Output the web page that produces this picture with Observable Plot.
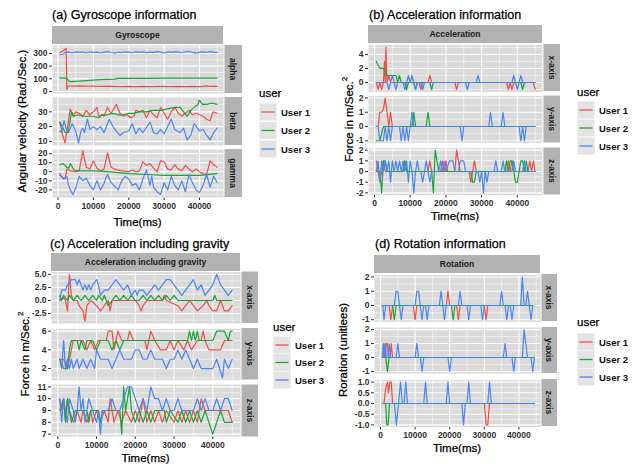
<!DOCTYPE html>
<html><head><meta charset="utf-8">
<script src="https://cdn.jsdelivr.net/npm/d3@7"></script>
<script src="https://cdn.jsdelivr.net/npm/@observablehq/plot@0.6"></script>
<style>
body{margin:0;background:#fff}
#root{position:relative;width:641px;height:464px;overflow:hidden;background:#fff}
</style></head><body><div id="root"></div>
<script>
// ---------- shared categories / ticks ----------
const users = ["User 1", "User 2", "User 3"];
const userColors = ["#EF4E46", "#17A634", "#4985F5"];
const timeTicks = [0, 10000, 20000, 30000, 40000];
const timeMinor = [5000, 15000, 25000, 35000, 45000];

// ---------- (a) Gyroscope ----------
const gyroAlpha1 = [[500,305],[1200,315],[2000,335],[2300,340],[2500,15],[2900,45],[4000,42],[6000,44],[8000,42],[10000,43],[12000,41],[14000,42],[16000,40],[18000,38],[20000,40],[22000,39],[24000,40],[26000,38],[28000,41],[30000,40],[32000,38],[34000,40],[36000,39],[38000,41],[40000,38],[42000,44],[43000,40],[44000,42],[45000,40]];
const gyroAlpha2 = [[500,107],[1500,106],[2500,104],[3000,85],[3500,78],[4500,80],[6000,82],[8000,86],[10000,90],[12000,93],[14000,95],[16000,98],[17000,103],[20000,104],[25000,104],[30000,105],[35000,105],[40000,106],[45000,106]];
const gyroAlpha3 = [[500,290],[1500,295],[2000,308],[3000,310],[4000,305],[5000,312],[6000,308],[7000,310],[8000,305],[9000,312],[10000,309],[11000,311],[12000,305],[13000,310],[14000,315],[15000,308],[16000,303],[17000,310],[18000,307],[19000,312],[20000,310],[21000,306],[22000,312],[23000,309],[24000,313],[25000,307],[26000,310],[27000,308],[28000,315],[29000,310],[30000,305],[31000,312],[32000,309],[33000,314],[34000,310],[35000,306],[36000,312],[37000,316],[38000,309],[39000,303],[40000,310],[41000,312],[42000,308],[43000,315],[44000,311],[45000,309]];
const gyroBeta1 = [[500,23],[1200,15],[2000,9],[2700,20],[3500,32],[4200,27],[5000,30],[6000,29],[7000,27],[8000,31],[9000,28],[10000,30],[11000,33],[11500,27],[12500,28],[13000,27],[14000,33],[15000,29],[16500,35],[17500,29],[18500,27],[19500,28],[20500,26],[21500,27],[22000,31],[23000,30],[24000,31],[25000,26],[26000,31],[27000,28],[28000,26],[29000,33],[30000,29],[31000,25],[32000,30],[33000,33],[34000,29],[35000,27],[36000,29],[37000,31],[38000,28],[39000,29],[40000,28],[41000,27],[42000,25],[43000,24],[43800,30],[45000,29]];
const gyroBeta2 = [[500,23],[1200,20],[2000,16],[2800,16],[3300,22],[3800,30],[4500,27],[5500,28],[7000,27],[8500,27],[10000,27],[11500,26],[12500,28],[14000,28],[15500,29],[17000,28],[18500,28],[20000,29],[21500,29],[23000,30],[25000,30],[27000,31],[29000,31],[31000,32],[33000,33],[34500,33],[35500,30],[36500,27],[37500,31],[38500,33],[39500,35],[40000,38],[40800,35],[42000,35],[43500,36],[45000,35]];
const gyroBeta3 = [[500,17],[1000,16],[1700,24],[2500,17],[3000,16],[4000,22],[5000,17],[5800,9],[6500,17],[7000,19],[7500,16],[8300,25],[9000,18],[10000,20],[11000,18],[12000,20],[13000,16],[14500,25],[15500,20],[16500,17],[17500,14],[18500,16],[20000,17],[21000,22],[22000,15],[23000,19],[24000,16],[26000,23],[27000,16],[28000,15],[29000,18],[30000,15],[31000,20],[32000,25],[33000,18],[34500,16],[35500,19],[36500,11],[37500,14],[38500,22],[40000,17],[41000,18],[42000,14],[43000,11],[44000,16],[45000,19]];
const gyroGamma1 = [[500,-4],[2000,-8],[2500,3],[3500,1],[5000,0],[6000,1],[7000,23],[8000,5],[9000,3],[10000,12],[11000,4],[12000,1],[13000,3],[14000,21],[15000,5],[16000,3],[18000,1],[20000,0],[21000,2],[22000,0],[23000,1],[24000,11],[25000,7],[26000,9],[27000,4],[28000,0],[29000,12],[30000,11],[31000,3],[32000,2],[33000,8],[34000,3],[35000,1],[36000,7],[37000,3],[38000,0],[39000,3],[40000,0],[41000,-2],[42000,-3],[43000,12],[44000,8],[45000,5]];
const gyroGamma2 = [[500,8],[1500,9],[2500,5],[3000,4],[3500,9],[4500,2],[6000,1],[10000,1],[15000,0],[20000,-2],[25000,-3],[30000,-4],[35000,-4],[40000,-4],[45000,-2]];
const gyroGamma3 = [[500,-2],[1500,-8],[2500,-5],[3000,-15],[3500,-20],[4200,-25],[5000,-18],[6000,-5],[7000,-10],[8000,-7],[9000,-15],[10000,-20],[11000,-10],[12000,-20],[13000,-13],[13500,-7],[14000,-3],[15000,-12],[17000,-20],[18000,-10],[19000,-5],[20000,-8],[21000,-15],[22000,-13],[23000,-20],[24000,-8],[25000,2],[26000,-15],[26500,-5],[27000,-17],[28000,-22],[29000,-25],[30000,-12],[31000,-20],[32000,-5],[33000,-15],[34000,-20],[35000,-10],[36000,-22],[37000,-3],[38000,-12],[39000,-20],[40000,-23],[41000,-15],[42000,-3],[43000,-17],[44000,-5],[45000,-12]];

// ---------- (b) Acceleration ----------
const accX1 = [[500,0],[1000,-1],[1500,0],[2000,-1],[2500,0],[2800,3],[3000,0],[3200,5],[3500,0],[4000,1],[4500,0],[12500,0],[13000,-1],[13500,0],[15000,0],[15500,1],[16000,0],[22500,0],[23000,-1],[23500,0],[37000,0],[37500,-1],[38000,0],[38500,-1],[39000,0],[44500,0],[45000,-1]];
const accX2 = [[500,3],[1000,2.5],[1500,2],[2500,2],[3000,1.5],[3500,1],[5000,1],[6000,1],[6500,0],[7000,1],[7500,0],[8500,0],[9000,-1],[9500,0],[11000,0],[11500,-1],[12000,0],[15500,0],[16000,-1],[16500,0],[41000,0],[41500,-1],[42000,0],[45000,0]];
const accX3 = [[500,0],[3500,0],[4000,-1],[4500,0],[5000,1],[5500,0],[6000,-1],[6500,0],[8000,0],[8500,-1],[9000,0],[9500,1],[10000,0],[10500,1],[11000,0],[11500,-1],[12000,0],[13000,0],[13500,-1],[14000,0],[25500,0],[26000,-1],[26500,0],[28500,0],[29000,1],[29500,0],[38500,0],[39000,1],[39500,0],[40000,-1],[40500,0],[41000,1],[41500,0],[45000,0]];
const accY1 = [[1000,0],[1500,1],[2000,1],[2500,1.2],[3000,2],[3500,1],[4000,0],[4500,1],[5000,0],[6000,0],[45000,0]];
const accY2 = [[500,-1],[1500,-1],[2000,-0.5],[2500,0],[10500,0],[11000,1],[11500,0],[14500,0],[15000,1],[15500,0],[45000,0]];
const accY3 = [[500,0],[1000,0],[1500,-1],[2500,-1],[3000,0],[3500,-1],[4000,0],[4500,-1],[5000,0],[7000,0],[7500,-1],[8000,0],[8500,-1],[9000,0],[9500,-1],[10000,0],[10500,1],[11000,0],[24000,0],[24500,-1],[25000,0],[32000,0],[32500,1],[33000,0],[35500,0],[36000,1],[36500,0],[40500,0],[41000,-1],[41500,0],[42000,-1],[42500,0],[45000,0]];
const accZ1 = [[500,1],[1000,0],[1500,-1],[2000,0],[2500,1],[3000,0],[8000,0],[8500,1],[9000,0],[15000,0],[15500,1],[16000,0],[18500,0],[19000,1],[19500,0],[20000,1],[20500,0],[22500,0],[23000,2],[23500,1],[24000,0],[26500,0],[27000,-1],[27500,0],[28000,1],[28500,0],[37000,0],[37500,1],[38000,0],[38500,1],[39000,0],[43000,0],[43500,1],[44000,0],[44500,1],[45000,0]];
const accZ2 = [[500,0],[1500,0],[2000,-2],[2500,1],[3000,1],[3500,0],[8000,0],[8500,1],[9000,0],[16000,0],[16500,-2],[17000,2],[17500,1],[18000,0],[27000,0],[27500,-1],[28000,-1],[28500,0],[36500,0],[37000,1],[37500,0],[38000,1],[38500,1],[39000,0],[39500,-1],[40000,-1],[40500,0],[41000,1],[41500,1],[42000,0],[42500,1],[43000,0],[45000,0]];
const accZ3 = [[500,0],[1000,1],[1500,-1],[2000,1],[2500,0],[3000,1],[3500,0],[4000,1],[4500,-1],[5000,1],[5500,0],[6000,1],[6500,0],[7000,1],[7500,0],[8000,1],[8500,0],[9000,1],[9500,-1],[10000,1],[10500,0],[11000,-2],[11500,0],[12000,1],[12500,0],[13000,0],[13500,-1],[14000,0],[14500,1],[15000,0],[15500,-1],[16000,0],[18000,0],[18500,1],[19000,0],[19500,1],[20000,0],[21000,1],[22000,1],[22500,0],[23500,0],[24000,1],[25000,1],[25500,0],[29000,0],[29500,-1],[30000,0],[30500,-2],[31000,0],[31500,-1],[32000,0],[33500,0],[34000,1],[34500,0],[35500,0],[36000,1],[36500,0],[38500,0],[39000,1],[39500,0],[41500,0],[42000,1],[42500,0],[45000,0]];

// ---------- (c) Acceleration including gravity ----------
const gravX1 = [[500,0],[1500,0.5],[2000,0],[2500,-2],[3000,5],[3500,1],[4000,0],[5000,0],[5500,-1],[6500,-2],[7000,-4],[7500,-1],[8500,0],[10000,-1],[11000,-2],[12000,-1],[13000,0],[13500,-2],[14000,0],[20000,0],[21000,-1],[21500,-2],[22000,-1],[23000,0],[27000,0],[27500,1],[28000,0],[31000,-1],[32000,-2],[33000,-1],[34000,0],[35000,-1],[36000,-2],[37500,-1],[38500,0],[39000,-1],[40000,-2],[41000,-2],[42000,0],[43000,-2],[44000,-2],[45000,-1]];
const gravX2 = [[500,1],[1000,0],[1500,1],[2500,0],[3000,1],[4000,0],[5000,1],[6000,0],[7000,1],[8000,0],[9000,1],[10000,0],[10500,1],[11500,0],[12000,1],[13000,-1],[14000,0],[15000,1],[16000,0],[17000,1],[18000,0],[19000,1],[20000,0],[21000,0],[22000,1],[23000,0],[24000,1],[25000,0],[26000,1],[27000,0],[28000,1],[29000,0],[30000,1],[31000,0],[40000,0],[40500,1],[41000,0],[45000,0]];
const gravX3 = [[500,0],[1000,2],[2000,2],[2500,3],[3500,4],[4500,4],[5000,3],[5500,4],[6500,2],[7000,3],[7500,2],[8000,3],[8500,2],[9000,3],[10000,4],[10500,3],[11000,1],[12000,2],[13000,2],[14000,3],[15000,4],[16000,3],[17000,2],[18000,3],[18500,2],[19000,1],[20000,2],[20500,1],[21000,2],[22000,2],[23000,1],[24000,2],[25000,3],[26000,2],[27000,3],[28000,4],[29000,4],[30000,3],[31000,2],[32000,1],[33000,2],[34000,3],[35000,4],[36000,2],[37000,3],[38000,1],[39000,2],[40000,3],[41000,5],[42000,3],[43000,2],[44000,1],[45000,2]];
const gravY1 = [[500,3],[1500,3],[2500,2],[3500,4],[4000,5],[5000,5],[6500,5],[7500,4],[8500,5],[9500,4],[10500,5],[12500,5],[13000,6],[14000,6],[14500,4],[15500,6],[16500,5],[18000,5],[18500,6],[19500,5],[22500,5],[23000,4],[24000,6],[25000,5],[26500,4],[28000,4],[29000,5],[30000,4],[31000,5],[32500,4],[33500,5],[34500,4],[36000,5],[37000,5],[37500,6],[38000,5],[39000,4],[42000,4],[43000,5],[45000,5]];
const gravY2 = [[500,3],[1500,2],[2500,2],[3000,4],[3500,5],[5000,5],[5500,4],[6000,5],[7000,4],[7500,5],[9000,5],[10000,4],[11000,5],[13000,5],[14000,4],[15000,5],[16000,4],[17000,5],[33500,5],[34000,6],[34500,5],[35000,6],[35500,5],[36000,6],[36500,5],[40000,5],[41000,6],[43000,6],[44000,5],[44500,6],[45000,6]];
const gravY3 = [[500,3],[1000,2],[1500,5],[2000,2],[2500,3],[3000,2],[3500,3],[4000,2],[5000,3],[5500,2],[6500,3],[7500,2],[8500,3],[9500,2],[10000,4],[11000,3],[13000,3],[14000,2],[15000,3],[16000,4],[17000,3],[19000,3],[20000,4],[21000,4],[22000,3],[23000,3],[24000,4],[25000,3],[27000,3],[28000,2],[29000,3],[30000,3],[31000,4],[32000,3],[33000,4],[34000,3],[35000,2],[36000,3],[37000,2],[40000,2],[41000,3],[42500,1],[43000,3],[44000,2],[45000,3]];
const gravZ1 = [[500,10],[1000,9],[1500,10],[2000,8],[2500,10],[3000,9],[4000,8],[5000,9],[6000,8],[6500,9],[7500,8],[8500,9],[9000,8],[10000,9],[11000,8],[12000,9],[13000,8],[13500,10],[14500,8],[15500,9],[16500,8],[17500,9],[19000,8],[20000,9],[21000,8],[22000,10],[23000,8],[24000,9],[25000,8],[26000,9],[27000,8],[28000,9],[30000,8],[31000,9],[32000,8],[33000,9],[34000,8],[35000,9],[36000,8],[37000,10],[38000,9],[44000,9],[45000,8]];
const gravZ2 = [[500,9],[1500,10],[2000,8],[2500,10],[3000,9],[3500,8],[4500,9],[7500,9],[8000,8],[8500,9],[10500,9],[11000,8],[11500,9],[16000,9],[16500,7],[17000,11],[17500,9],[18500,11],[19000,9],[20000,8],[21000,9],[22000,8],[23000,9],[24000,8],[25000,9],[27500,9],[28000,8],[29000,9],[31000,8],[32000,9],[33000,8],[34000,9],[35000,8],[36000,9],[37000,8],[38000,9],[39000,8],[40000,7],[41000,8],[42000,9],[43000,8],[45000,8]];
const gravZ3 = [[500,10],[1000,8],[1500,10],[2000,9],[2500,8],[3000,10],[4000,9],[4500,8],[5000,9],[5500,11],[6000,9],[6500,10],[7000,8],[7500,9],[8000,10],[9000,9],[10000,8],[10500,9],[11000,7],[11500,9],[13000,9],[14000,10],[15000,9],[16000,9],[17000,10],[18000,11],[19000,11],[20000,10],[21000,9],[22000,10],[23000,9],[24000,11],[25000,10],[26000,10],[27000,9],[28000,10],[29000,9],[30000,9],[31000,10],[32000,9],[35000,9],[36000,10],[37000,9],[38000,10],[39000,9],[40000,9],[41000,10],[42000,9],[43000,10],[44000,10],[45000,9]];

// ---------- (d) Rotation ----------
const rotX1 = [[500,0],[2500,0],[3000,-1],[3500,0],[9500,0],[10000,-1],[10500,0],[19000,0],[19500,1],[20000,0],[22000,0],[22500,-1],[23000,0],[30000,0],[30500,-1],[31000,0],[44000,0]];
const rotX2 = [[500,0],[3500,0],[4000,-1],[4500,0],[20500,0],[21000,-1],[21500,0],[44000,0]];
const rotX3 = [[500,0],[700,0],[1000,-1],[1500,0],[4000,0],[4500,1],[5000,1],[5500,0],[6000,-1],[6500,0],[10000,0],[10500,1],[11000,1],[11500,0],[12000,-1],[12500,0],[13000,0],[13500,-1],[14000,0],[17000,0],[17500,1],[18000,0],[18500,-1],[19000,0],[22500,0],[23000,1],[23500,0],[25000,0],[25500,-1],[26000,0],[29000,0],[29500,-1],[30000,0],[34500,0],[35000,1],[35500,0],[36000,0],[36500,-1],[37000,0],[37500,0],[38000,-1],[38500,0],[40500,0],[41000,2],[41500,0],[42000,0],[42500,1],[43000,0],[43500,-1],[44000,0]];
const rotY1 = [[500,0],[700,0],[1000,1],[1300,0],[1700,1],[2000,1],[2300,0],[2800,0],[3100,1],[3500,0],[44500,0]];
const rotY2 = [[500,0],[1500,0],[2000,-1],[2500,0],[44500,0]];
const rotY3 = [[500,0],[800,1],[1100,0],[1400,1],[1700,0],[2200,0],[2500,1],[2800,0],[4500,0],[5000,1],[5500,0],[10000,0],[10500,1],[11000,0],[11500,0],[12000,-1],[12500,0],[19500,0],[20000,-1],[20500,0],[35500,0],[36000,1],[36500,0],[38000,0],[38500,-1],[39000,0],[41000,0],[41500,2],[42000,1],[42500,0],[43500,0],[44000,-1],[44500,0]];
const rotZ1 = [[500,0],[1000,0],[1500,0.7],[2000,1],[2300,0.5],[2700,1],[3100,1],[3500,0],[30000,0],[30500,-1],[31000,-1],[31500,0],[44500,0]];
const rotZ2 = [[500,0],[1500,0],[1800,-1],[2200,-1],[2600,0],[44500,0]];
const rotZ3 = [[500,0],[4000,0],[4600,-1],[5200,0],[5800,1],[6300,0],[6800,0],[7300,1],[7800,0],[12500,0],[13000,1],[13500,0],[19000,0],[19500,1],[20000,0],[23500,0],[24000,-1],[24500,0],[25000,0],[25500,1],[26000,0],[31000,0],[31500,1],[32000,0],[44500,0]];

// ---------- y tick labels per facet ----------
const ticksAlpha = [0,100,200,300], minorAlpha = [50,150,250,350];
const ticksBeta = [10,20,30], minorBeta = [15,25,35];
const ticksGamma = [-20,-10,0,10,20], minorGamma = [-25,-15,-5,5,15];
const ticksAccX = [0,2,4], minorAccX = [-1,1,3,5];
const ticksAccY = [-1,0,1,2], minorAccY = [-0.5,0.5,1.5];
const ticksAccZ = [-2,-1,0,1,2], minorAccZ = [-1.5,-0.5,0.5,1.5];
const ticksGravX = [-2.5,0,2.5,5], minorGravX = [-3.75,-1.25,1.25,3.75];
const ticksGravY = [2,4,6], minorGravY = [1,3,5];
const ticksGravZ = [7,8,9,10,11], minorGravZ = [7.5,8.5,9.5,10.5];
const ticksRot = [-1,0,1,2], minorRot = [-0.5,0.5,1.5];
const ticksRotZ = [-1,-0.5,0,0.5,1], minorRotZ = [-0.75,-0.25,0.25,0.75];

// ---------- styling / layout ----------
const FONT = '"Liberation Sans", Arial, Helvetica, sans-serif';
const PANEL_BG = "#DADADA", STRIP_BG = "#B2B2B2", KEY_BG = "#E3E3E3";
const fmt0 = d => d.toFixed(0), fmt1 = d => d.toFixed(1);

const panels = [
  {title: "(a)  Gyroscope information", titleX: 52, titleY: 18.5, strip: "Gyroscope",
   x0: 52, x1: 223, stripTop: 26, rsX1: 242, xDomain: [-1560, 46780], timeY: 222,
   ytitle: "Angular velocity (Rad./Sec.)", sup: false, ytX: 22, legendX: 259, userY: 97, keyY: [112, 130.5, 149],
   facets: [
     {y0: 45, y1: 93, label: "alpha", dom: [-16, 363], ticks: ticksAlpha, minor: minorAlpha, f: fmt0, snap: null, s: [gyroAlpha1, gyroAlpha2, gyroAlpha3]},
     {y0: 97, y1: 145, label: "beta", dom: [7.2, 39.7], ticks: ticksBeta, minor: minorBeta, f: fmt0, snap: null, s: [gyroBeta1, gyroBeta2, gyroBeta3]},
     {y0: 149, y1: 197, label: "gamma", dom: [-28.4, 24.6], ticks: ticksGamma, minor: minorGamma, f: fmt0, snap: null, s: [gyroGamma1, gyroGamma2, gyroGamma3]}]},
  {title: "(b) Acceleration information", titleX: 369, titleY: 18.5, strip: "Acceleration",
   x0: 368, x1: 542, stripTop: 25, rsX1: 560, xDomain: [-1680, 47060], timeY: 216,
   ytitle: "Force in m/Sec.", sup: true, ytX: 349, legendX: 577, userY: 96, keyY: [110, 128, 146],
   facets: [
     {y0: 44, y1: 91, label: "x-axis", dom: [-1.35, 5.35], ticks: ticksAccX, minor: minorAccX, f: fmt0, snap: 0, s: [accX1, accX2, accX3]},
     {y0: 95.5, y1: 142.5, label: "y-axis", dom: [-1.15, 2.15], ticks: ticksAccY, minor: minorAccY, f: fmt0, snap: 0, s: [accY1, accY2, accY3]},
     {y0: 147.5, y1: 194.5, label: "z-axis", dom: [-2.2, 2.2], ticks: ticksAccZ, minor: minorAccZ, f: fmt0, snap: 0, s: [accZ1, accZ2, accZ3]}]},
  {title: "(c)  Acceleration including gravity", titleX: 50, titleY: 247.5, strip: "Acceleration including gravity",
   x0: 51, x1: 240, stripTop: 253, rsX1: 258, xDomain: [-1626, 47148], timeY: 458,
   ytitle: "Force in m/Sec.", sup: true, ytX: 25, legendX: 273, userY: 331, keyY: [345, 362.5, 380],
   facets: [
     {y0: 271.5, y1: 323, label: "x-axis", dom: [-4.4, 5.45], ticks: ticksGravX, minor: minorGravX, f: fmt1, snap: 0, s: [gravX1, gravX2, gravX3]},
     {y0: 328, y1: 379.5, label: "y-axis", dom: [0.75, 6.25], ticks: ticksGravY, minor: minorGravY, f: fmt0, snap: 5, s: [gravY1, gravY2, gravY3]},
     {y0: 384.5, y1: 436.5, label: "z-axis", dom: [6.8, 11.2], ticks: ticksGravZ, minor: minorGravZ, f: fmt0, snap: 9, s: [gravZ1, gravZ2, gravZ3]}]},
  {title: "(d) Rotation information", titleX: 375, titleY: 247.5, strip: "Rotation",
   x0: 374, x1: 540, stripTop: 255, rsX1: 557, xDomain: [-1734, 46240], timeY: 448,
   ytitle: "Roration (unitlees)", sup: false, ytX: 343, legendX: 577, userY: 326, keyY: [342, 359.5, 377],
   facets: [
     {y0: 274, y1: 321, label: "x-axis", dom: [-1.15, 2.15], ticks: ticksRot, minor: minorRot, f: fmt0, snap: 0, s: [rotX1, rotX2, rotX3]},
     {y0: 327, y1: 373, label: "y-axis", dom: [-1.15, 2.15], ticks: ticksRot, minor: minorRot, f: fmt0, snap: 0, s: [rotY1, rotY2, rotY3]},
     {y0: 379, y1: 426, label: "z-axis", dom: [-1.1, 1.1], ticks: ticksRotZ, minor: minorRotZ, f: fmt1, snap: 0, s: [rotZ1, rotZ2, rotZ3]}]}
];

const root = document.getElementById("root");
const overlay = d3.select(root).append("svg")
  .attr("width", 641).attr("height", 464)
  .style("position", "absolute").style("left", "0px").style("top", "0px")
  .attr("font-family", FONT);

function buildFacet(p, fc, showX, rows, T, mt) {
  const ml = 40, mbBase = showX ? 18 : 0;
  const h = fc.y1 - fc.y0;
  const H = Math.ceil(mt + h + mbBase);   // whole-pixel SVG height, no rescaling
  const mb = H - mt - h;
  const marks = [
    Plot.frame({fill: PANEL_BG, stroke: "none"}),
    Plot.ruleX(timeMinor, {stroke: "#fff", strokeWidth: 0.5}),
    Plot.ruleY(fc.minor, {stroke: "#fff", strokeWidth: 0.5}),
    Plot.ruleX(timeTicks, {stroke: "#fff", strokeWidth: 1.1}),
    Plot.ruleY(fc.ticks, {stroke: "#fff", strokeWidth: 1.1}),
    Plot.line(rows, {x: "t", y: "v", z: "user", stroke: "user", strokeWidth: 1.2})
  ];
  // invisible probe at the shared flat level, used only to measure where it lands on screen
  if (fc.snap !== null) marks.push(Plot.ruleY([fc.snap], {stroke: "transparent", strokeWidth: 0}));
  const chart = Plot.plot({
    width: ml + (p.x1 - p.x0), height: H,
    marginLeft: ml, marginRight: 0, marginTop: mt, marginBottom: mb,
    style: {background: "transparent", fontFamily: FONT, fontSize: "8.5px", fontWeight: "bold", color: "#2f2f2f", overflow: "visible"},
    x: showX ? {domain: p.xDomain, ticks: timeTicks, tickFormat: d => String(d), tickSize: 3, tickPadding: 2, label: null}
             : {domain: p.xDomain, axis: null},
    y: {domain: fc.dom, ticks: fc.ticks, tickFormat: fc.f, tickSize: 3, tickPadding: 2, label: null},
    color: {domain: users, range: userColors},
    marks
  });
  chart.style.position = "absolute";
  chart.style.left = (p.x0 - ml) + "px";
  chart.style.top = T + "px";
  chart.style.maxWidth = "none";
  root.appendChild(chart);
  return chart;
}

function probeY(chart) {
  const groups = chart.querySelectorAll('g[aria-label="rule"]');
  const g = groups[groups.length - 1];
  const ln = g && g.querySelector("line");
  return ln ? ln.getBoundingClientRect().top - root.getBoundingClientRect().top : null;
}

function drawFacet(p, fc, showX) {
  const h = fc.y1 - fc.y0;
  const T = Math.floor(fc.y0);
  const rows = [];
  fc.s.forEach((series, i) => series.forEach(([t, v]) => rows.push({t, v, user: users[i]})));
  let mt = fc.y0 - T;
  let chart = buildFacet(p, fc, showX, rows, T, mt);
  if (fc.snap !== null) {
    // nudge (< 1px) so the flat level where all users overlap lands on a pixel centre
    const y = probeY(chart);
    if (y !== null) {
      let delta = 0.5 - (y - Math.floor(y));
      mt = ((mt + delta) % 1 + 1) % 1;
      chart.remove();
      chart = buildFacet(p, fc, showX, rows, T, mt);
    }
  }

  // right strip
  const rx = p.x1 + 1.5, rw = p.rsX1 - rx;
  overlay.append("rect").attr("x", rx).attr("y", fc.y0).attr("width", rw).attr("height", h).attr("fill", STRIP_BG);
  overlay.append("text").attr("transform", `translate(${rx + rw / 2},${(fc.y0 + fc.y1) / 2}) rotate(90)`)
    .attr("text-anchor", "middle").attr("dominant-baseline", "central")
    .attr("font-size", 8.5).attr("font-weight", "bold").attr("fill", "#1a1a1a").text(fc.label);
}

panels.forEach(p => {
  overlay.append("text").attr("x", p.titleX).attr("y", p.titleY).attr("font-size", 12.5).attr("fill", "#000")
    .attr("stroke", "#000").attr("stroke-width", 0.25).text(p.title);
  overlay.append("rect").attr("x", p.x0).attr("y", p.stripTop).attr("width", p.x1 - p.x0).attr("height", 18).attr("fill", STRIP_BG);
  overlay.append("text").attr("x", (p.x0 + p.x1) / 2).attr("y", p.stripTop + 9)
    .attr("text-anchor", "middle").attr("dominant-baseline", "central")
    .attr("font-size", 8.5).attr("font-weight", "bold").attr("fill", "#1a1a1a").text(p.strip);
  p.facets.forEach((fc, i) => drawFacet(p, fc, i === p.facets.length - 1));
  overlay.append("text").attr("x", (p.x0 + p.x1) / 2).attr("y", p.timeY)
    .attr("text-anchor", "middle").attr("dominant-baseline", "central")
    .attr("font-size", 11.5).attr("fill", "#000").attr("stroke", "#000").attr("stroke-width", 0.25).text("Time(ms)");
  const cy = (p.facets[0].y0 + p.facets[2].y1) / 2;
  const yt = overlay.append("text").attr("transform", `translate(${p.ytX},${cy}) rotate(-90)`)
    .attr("text-anchor", "middle").attr("dominant-baseline", "central")
    .attr("font-size", 11.5).attr("fill", "#000").attr("stroke", "#000").attr("stroke-width", 0.25);
  yt.append("tspan").text(p.ytitle);
  if (p.sup) yt.append("tspan").attr("dy", -5).attr("font-size", 8).text("2");
  // legend
  overlay.append("text").attr("x", p.legendX).attr("y", p.userY).attr("font-size", 11.5).attr("fill", "#000")
    .attr("stroke", "#000").attr("stroke-width", 0.25).text("user");
  users.forEach((u, i) => {
    const ky = p.keyY[i];
    overlay.append("rect").attr("x", p.legendX + 0.5).attr("y", ky - 8.5).attr("width", 17).attr("height", 17).attr("fill", KEY_BG);
    overlay.append("line").attr("x1", p.legendX + 2.5).attr("x2", p.legendX + 15.5).attr("y1", ky).attr("y2", ky)
      .attr("stroke", userColors[i]).attr("stroke-width", 1.3);
    overlay.append("text").attr("x", p.legendX + 22).attr("y", ky).attr("dominant-baseline", "central")
      .attr("font-size", 9.5).attr("font-weight", "bold").attr("fill", "#111").text(u);
  });
});
</script></body></html>
